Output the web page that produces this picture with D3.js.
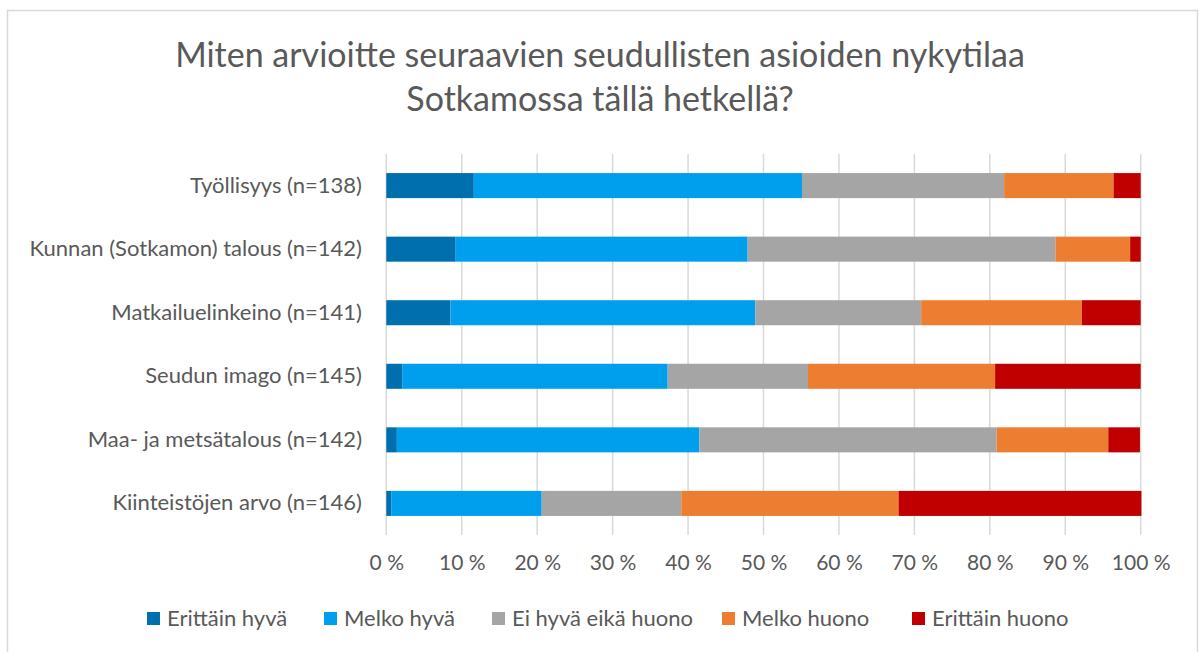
<!DOCTYPE html>
<html>
<head>
<meta charset="utf-8">
<script src="https://cdn.jsdelivr.net/npm/d3@7"></script>
<style>
  html, body { margin: 0; padding: 0; background: #fff; }
  svg { display: block; }
  text { font-family: Lato, "Open Sans", sans-serif; fill: #595959; }
</style>
</head>
<body>
<svg id="chart" width="1199" height="652"></svg>
<script>
// ---- Data ----
const categories = [
  "Työllisyys (n=138)",
  "Kunnan (Sotkamon) talous (n=142)",
  "Matkailuelinkeino (n=141)",
  "Seudun imago (n=145)",
  "Maa- ja metsätalous (n=142)",
  "Kiinteistöjen arvo (n=146)"
];
const seriesNames = ["Erittäin hyvä", "Melko hyvä", "Ei hyvä eikä huono", "Melko huono", "Erittäin huono"];
const erittainHyva   = [11.6,  9.2,  8.5,  2.1,  1.4,  0.7];
const melkoHyva      = [43.5, 38.7, 40.4, 35.2, 40.1, 19.9];
const eiHyvaEikaHuono= [26.8, 40.8, 22.0, 18.6, 39.4, 18.5];
const melkoHuono     = [14.5,  9.9, 21.3, 24.8, 14.8, 28.8];
const erittainHuono  = [ 3.6,  1.4,  7.8, 19.3,  4.2, 32.2];
const tickValues = [0, 10, 20, 30, 40, 50, 60, 70, 80, 90, 100];
const tickLabels = ["0 %", "10 %", "20 %", "30 %", "40 %", "50 %", "60 %", "70 %", "80 %", "90 %", "100 %"];
const titleLines = ["Miten arvioitte seuraavien seudullisten asioiden nykytilaa", "Sotkamossa tällä hetkellä?"];
const colors = ["#006FAE", "#009FEE", "#A5A5A5", "#ED7D31", "#C00000"];

const seriesValues = [erittainHyva, melkoHyva, eiHyvaEikaHuono, melkoHuono, erittainHuono];
const rows = categories.map((c, i) => {
  const o = { cat: c };
  seriesNames.forEach((s, j) => o[s] = seriesValues[j][i]);
  return o;
});

const svg = d3.select("#chart");

// chart border
svg.append("rect").attr("x", 7.5).attr("y", 10.5).attr("width", 1190).attr("height", 660)
  .attr("fill", "#fff").attr("stroke", "#D9D9D9").attr("stroke-width", 1.5);

// title
svg.append("g").selectAll("text").data(titleLines).join("text")
  .attr("x", 600).attr("y", (d, i) => 67 + i * 44)
  .attr("text-anchor", "middle")
  .style("font-size", "34px")
  .text(d => d);

const x = d3.scaleLinear().domain([0, 100]).range([386.3, 1140.7]);
const y = d3.scaleBand().domain(categories).range([154, 535]).paddingInner(0.606).paddingOuter(0.3);

// gridlines
svg.append("g").selectAll("line").data(tickValues).join("line")
  .attr("x1", d => x(d)).attr("x2", d => x(d))
  .attr("y1", 154).attr("y2", 535)
  .attr("stroke", "#D9D9D9").attr("stroke-width", 1.5);

// bars
const stack = d3.stack().keys(seriesNames);
const stacked = stack(rows);
svg.append("g").selectAll("g").data(stacked).join("g")
  .attr("fill", (d, i) => colors[i])
  .selectAll("rect").data(d => d).join("rect")
  .attr("x", d => x(d[0]))
  .attr("width", d => x(d[1]) - x(d[0]))
  .attr("y", d => y(d.data.cat))
  .attr("height", y.bandwidth());

// x axis labels
const xAxis = d3.axisBottom(x).tickValues(tickValues)
  .tickFormat((d, i) => tickLabels[i]).tickSize(0).tickPadding(0);
const gx = svg.append("g").attr("transform", "translate(0,555)").call(xAxis);
gx.select(".domain").remove();
gx.selectAll("text").style("font-size", "21px").attr("fill", "#595959")
  .style("font-family", "Lato, sans-serif");

// y axis labels
const yAxis = d3.axisLeft(y).tickSize(0).tickPadding(0);
const gy = svg.append("g").attr("transform", "translate(362,0)").call(yAxis);
gy.select(".domain").remove();
gy.selectAll("text").style("font-size", "22px").attr("fill", "#595959")
  .style("font-family", "Lato, sans-serif");

// legend
const legendX = [147, 324, 492, 722, 912];
const lg = svg.append("g").selectAll("g").data(seriesNames).join("g")
  .attr("transform", (d, i) => `translate(${legendX[i]},612)`);
lg.append("rect").attr("width", 13).attr("height", 13).attr("fill", (d, i) => colors[i]);
lg.append("text").attr("x", 20).attr("y", 14).style("font-size", "22px").text(d => d);
</script>
</body>
</html>
